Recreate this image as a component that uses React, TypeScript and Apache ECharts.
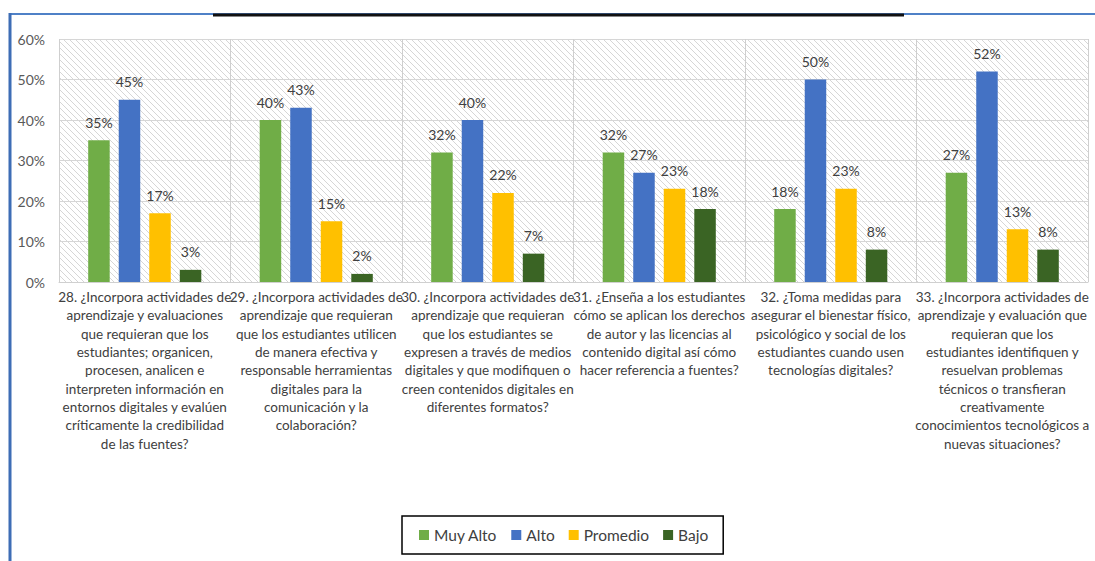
import React, { useEffect, useRef } from "react";
import * as echarts from "echarts";

const categories = [
  "28. ¿Incorpora actividades de\naprendizaje y evaluaciones\nque requieran que los\nestudiantes; organicen,\nprocesen, analicen e\ninterpreten información en\nentornos digitales y evalúen\ncríticamente la credibilidad\nde las fuentes?",
  "29. ¿Incorpora actividades de\naprendizaje que requieran\nque los estudiantes utilicen\nde manera efectiva y\nresponsable herramientas\ndigitales para la\ncomunicación y la\ncolaboración?",
  "30. ¿Incorpora actividades de\naprendizaje que requieran\nque los estudiantes se\nexpresen a través de medios\ndigitales y que modifiquen o\ncreen contenidos digitales en\ndiferentes formatos?",
  "31. ¿Enseña a los estudiantes\ncómo se aplican los derechos\nde autor y las licencias al\ncontenido digital así cómo\nhacer referencia a fuentes?",
  "32. ¿Toma medidas para\nasegurar el bienestar físico,\npsicológico y social de los\nestudiantes cuando usen\ntecnologías digitales?",
  "33. ¿Incorpora actividades de\naprendizaje y evaluación que\nrequieran que los\nestudiantes identifiquen y\nresuelvan problemas\ntécnicos o transfieran\ncreativamente\nconocimientos tecnológicos a\nnuevas situaciones?",
];

const seriesNames = ["Muy Alto", "Alto", "Promedio", "Bajo"];
const muyAlto = [35, 40, 32, 32, 18, 27];
const alto = [45, 43, 40, 27, 50, 52];
const promedio = [17, 15, 22, 23, 23, 13];
const bajo = [3, 2, 7, 18, 8, 8];
const yTicks = [0, 10, 20, 30, 40, 50, 60];

const colors = ["#70ad47", "#4472c4", "#ffc000", "#3a6424"];
const FONT = "Lato, 'Liberation Sans', sans-serif";

function makeHatch(): string {
  const c = document.createElement("canvas");
  c.width = 6;
  c.height = 6;
  const ctx = c.getContext("2d");
  if (ctx) {
    ctx.fillStyle = "#ffffff";
    ctx.fillRect(0, 0, 6, 6);
    ctx.strokeStyle = "#d6d6d6";
    ctx.lineWidth = 1;
    ctx.beginPath();
    ctx.moveTo(-1, -1);
    ctx.lineTo(7, 7);
    ctx.moveTo(-4, 2);
    ctx.lineTo(4, 10);
    ctx.moveTo(2, -4);
    ctx.lineTo(10, 4);
    ctx.stroke();
  }
  return c.toDataURL();
}

export default function App() {
  const ref = useRef<HTMLDivElement>(null);
  useEffect(() => {
    if (!ref.current) return;
    const chart = echarts.init(ref.current, null, { renderer: "svg" });
    const dataSets = [muyAlto, alto, promedio, bajo];
    chart.setOption({
      animation: false,
      backgroundColor: "#ffffff",
      textStyle: { fontFamily: FONT },
      grid: {
        left: 59,
        right: 7,
        top: 39,
        bottom: 279,
        show: true,
        borderWidth: 0,
        backgroundColor: { image: makeHatch(), repeat: "repeat" },
      },
      legend: {
        data: seriesNames,
        left: 402,
        top: 516,
        padding: [11, 15, 11, 17],
        borderColor: "#000000",
        borderWidth: 1.5,
        itemWidth: 10,
        itemHeight: 10,
        itemGap: 14,
        icon: "rect",
        textStyle: { fontSize: 15.5, color: "#404040", fontFamily: FONT },
      },
      xAxis: {
        type: "category",
        data: categories,
        axisLine: { show: true, lineStyle: { color: "#d0d0d0", width: 1 } },
        axisTick: { show: false },
        splitLine: { show: true, lineStyle: { color: "#cfcfcf", width: 1 } },
        axisLabel: {
          interval: 0,
          margin: 6,
          fontSize: 13.5,
          lineHeight: 18.3,
          color: "#404040",
          fontFamily: FONT,
          align: "center",
        },
      },
      yAxis: {
        type: "value",
        min: yTicks[0],
        max: yTicks[yTicks.length - 1],
        interval: 10,
        axisLine: { show: false },
        axisTick: { show: false },
        splitLine: { show: true, lineStyle: { color: "#d6d6d6", width: 1.2 } },
        axisLabel: {
          formatter: "{value}%",
          fontSize: 14,
          color: "#595959",
          margin: 14,
          fontFamily: FONT,
        },
      },
      graphic: [
        {
          type: "line",
          shape: { x1: 10, y1: 14, x2: 1095, y2: 14 },
          style: { stroke: "#4f81c7", lineWidth: 2 },
          z: 10,
        },
        {
          type: "line",
          shape: { x1: 213, y1: 15, x2: 904, y2: 15 },
          style: { stroke: "#111111", lineWidth: 3 },
          z: 11,
        },
        {
          type: "line",
          shape: { x1: 10, y1: 13, x2: 10, y2: 561 },
          style: { stroke: "#3d6db5", lineWidth: 3 },
          z: 10,
        },
      ],
      series: seriesNames.map((name, i) => ({
        name,
        type: "bar",
        data: dataSets[i],
        barWidth: 21.5,
        barGap: "42%",
        itemStyle: { color: colors[i] },
        label: {
          show: true,
          position: "top",
          distance: 11,
          formatter: "{c}%",
          fontSize: 14,
          color: "#404040",
          fontFamily: FONT,
        },
      })),
    });
    return () => chart.dispose();
  }, []);
  return (
    <div
      ref={ref}
      style={{ position: "absolute", left: 0, top: 0, width: 1095, height: 561 }}
    />
  );
}
